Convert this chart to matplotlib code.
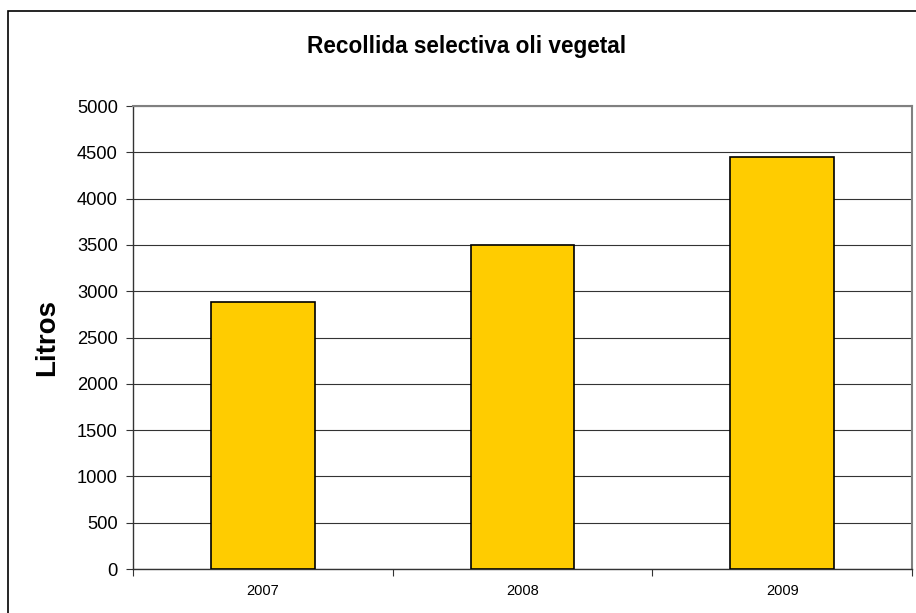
import matplotlib.pyplot as plt
from matplotlib.patches import Rectangle

# 数据
years = ['2007', '2008', '2009']
litros = [2880, 3500, 4450]
yticks = [0, 500, 1000, 1500, 2000, 2500, 3000, 3500, 4000, 4500, 5000]

plt.rcParams['font.family'] = ['Liberation Sans', 'DejaVu Sans']

fig = plt.figure(figsize=(9.16, 6.13), dpi=100)

# 外框（右侧和底部被裁掉）
fig.patches.append(Rectangle((8 / 916, -0.1), 1.2, (613 - 11) / 613 + 0.1,
                             transform=fig.transFigure, fill=False,
                             edgecolor='black', linewidth=1.2))

ax = fig.add_axes([133 / 916, 1 - 569 / 613, 779 / 916, 463 / 613])

x = range(len(years))
ax.bar(x, litros, width=0.4, color='#FFCC00', edgecolor='black', linewidth=1.2, zorder=3)

ax.set_xlim(-0.5, len(years) - 0.5)
ax.set_ylim(0, 5000)
ax.set_yticks(yticks)
ax.set_yticklabels([str(v) for v in yticks], fontsize=13.2)
ax.yaxis.grid(True, color='#333333', linewidth=0.8, zorder=0)

# x 轴刻度放在类别边界上，标签放在中间
ax.set_xticks([-0.5, 0.5, 1.5, 2.5])
ax.set_xticklabels([])
ax.set_xticks(list(x), minor=True)
ax.set_xticklabels(years, minor=True, fontsize=10.5)
ax.tick_params(axis='x', which='minor', length=0, pad=11)
ax.tick_params(axis='x', which='major', length=5, color='#333333')
ax.tick_params(axis='y', length=5, color='#333333', pad=6)

for s in ['top', 'right']:
    ax.spines[s].set_color('#808080')
    ax.spines[s].set_linewidth(1.5)
for s in ['left', 'bottom']:
    ax.spines[s].set_color('#333333')
    ax.spines[s].set_linewidth(1.0)

ax.set_ylabel('Litros', fontsize=20, fontweight='bold')
ax.yaxis.set_label_coords((60 - 133) / 779, 0.5)
fig.text(467 / 916, 1 - 46 / 613, 'Recollida selectiva oli vegetal', ha='center', va='center',
         fontsize=16.3, fontweight='bold')

plt.savefig('out.png', dpi=100)
